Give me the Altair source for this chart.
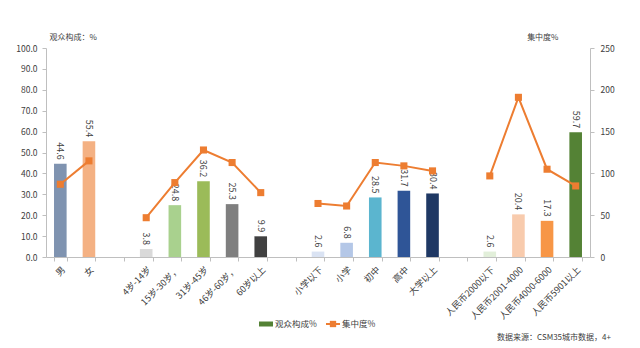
import altair as alt
import pandas as pd

FONT = "Noto Sans CJK SC"

categories = ["男", "女", " ",
              "4岁-14岁", "15岁-30岁，", "31岁-45岁", "46岁-60岁，", "60岁以上", "  ",
              "小学以下", "小学", "初中", "高中", "大学以上", "   ",
              "人民币2000以下", "人民币2001-4000", "人民币4000-6000", "人民币5901以上"]
groups = ["性别", "性别", None,
          "年龄", "年龄", "年龄", "年龄", "年龄", None,
          "学历", "学历", "学历", "学历", "学历", None,
          "收入", "收入", "收入", "收入"]
share = [44.6, 55.4, None,
         3.8, 24.8, 36.2, 25.3, 9.9, None,
         2.6, 6.8, 28.5, 31.7, 30.4, None,
         2.6, 20.4, 17.3, 59.7]
concentration = [87, 115, None,
                 47, 89, 128, 113, 77, None,
                 64, 61, 113, 109, 103, None,
                 97, 191, 105, 85]
bar_colors = ["#7f93b0", "#f4b183", "#ffffff",
              "#d9d9d9", "#a9d18e", "#9bbb59", "#7f7f7f", "#404040", "#ffffff",
              "#dae3f3", "#b4c7e7", "#5bb5cf", "#2f5597", "#1f3864", "#ffffff",
              "#e2efda", "#f8cbad", "#f79646", "#548235"]
left_ticks = [0, 10, 20, 30, 40, 50, 60, 70, 80, 90, 100]
right_ticks = [0, 50, 100, 150, 200, 250]

df = pd.DataFrame({"cat": categories, "group": groups, "share": share,
                   "conc": concentration})
bar_df = df.dropna(subset=["share"])
line_df = df.dropna(subset=["conc"])

x_enc = alt.X("cat:N", sort=categories,
              scale=alt.Scale(domain=categories, paddingInner=0.56, paddingOuter=0.28),
              axis=alt.Axis(title=None, labelAngle=-45, labelFontSize=9, labelColor="#404040",
                            labelFont=FONT, domainColor="#bfbfbf", tickColor="#bfbfbf",
                            tickSize=4, tickBand="extent", labelPadding=4))
y_left = alt.Y("share:Q",
               scale=alt.Scale(domain=[0, 100], nice=False),
               axis=alt.Axis(values=left_ticks, format=".1f", title="观众构成：%",
                             titleAngle=0, titleX=3, titleY=-11, titleAlign="left",
                             titleBaseline="middle", titleFontSize=8, titleFontWeight="normal",
                             titleFont=FONT, titleColor="#404040",
                             labelFontSize=8.5, labelColor="#404040", labelFont=FONT,
                             domainColor="#bfbfbf", tickColor="#bfbfbf", tickSize=4,
                             labelPadding=5, grid=False))

bars = alt.Chart(bar_df).mark_bar().encode(
    x=x_enc, y=y_left,
    color=alt.Color("cat:N", scale=alt.Scale(domain=categories, range=bar_colors), legend=None),
)
labels = alt.Chart(bar_df).mark_text(angle=90, align="right", baseline="middle", dx=-4,
                                     fontSize=9, color="#404040", font=FONT).encode(
    x=x_enc, y=y_left, text=alt.Text("share:Q", format=".1f"))

left = alt.layer(bars, labels)

line = alt.Chart(line_df).mark_line(
    color="#ed7d31", strokeWidth=2,
    point=alt.OverlayMarkDef(shape="square", size=50, filled=True, color="#ed7d31"),
).encode(
    x=x_enc,
    y=alt.Y("conc:Q", scale=alt.Scale(domain=[0, 250], nice=False),
            axis=alt.Axis(orient="right", values=right_ticks, format="d", title="集中度%",
                          titleAngle=0, titleX=-32, titleY=-11, titleAlign="right",
                          titleBaseline="middle", titleFontSize=8, titleFontWeight="normal",
                          titleFont=FONT, titleColor="#404040",
                          labelFontSize=8.5, labelColor="#404040", labelFont=FONT,
                          domainColor="#bfbfbf", tickColor="#bfbfbf", tickSize=4,
                          labelPadding=6, grid=False)),
    detail="group:N",
)

# legend and source note (drawn as decoration, positions relative to plot origin)
one = pd.DataFrame({"k": [0]})
leg_rect = alt.Chart(one).mark_rect(color="#548235").encode(
    x=alt.value(213), x2=alt.value(227), y=alt.value(273.5), y2=alt.value(278.5))
leg_text1 = alt.Chart(one).mark_text(text="观众构成%", align="left", baseline="middle",
                                     fontSize=8.5, color="#404040", font=FONT).encode(
    x=alt.value(229), y=alt.value(276))
leg_rule = alt.Chart(one).mark_rule(color="#ed7d31", strokeWidth=2).encode(
    x=alt.value(280), x2=alt.value(294), y=alt.value(276))
leg_pt = alt.Chart(one).mark_point(shape="square", size=40, filled=True, opacity=1,
                                    color="#ed7d31").encode(
    x=alt.value(287), y=alt.value(276))
leg_text2 = alt.Chart(one).mark_text(text="集中度%", align="left", baseline="middle",
                                     fontSize=8.5, color="#404040", font=FONT).encode(
    x=alt.value(296), y=alt.value(276))
source = alt.Chart(one).mark_text(text="数据来源：CSM35城市数据，4+", align="left",
                                  baseline="middle", fontSize=8, color="#404040",
                                  font=FONT).encode(
    x=alt.value(451), y=alt.value(290))

chart = alt.layer(left, line, leg_rect, leg_text1, leg_rule, leg_pt, leg_text2, source
                  ).resolve_scale(y="independent").properties(
    width=544, height=209,
    autosize=alt.AutoSizeParams(type="none"),
    padding={"left": 46, "top": 48, "right": 50, "bottom": 91},
    background="white",
).configure_view(strokeWidth=0)

chart.save("out.html", embed_options={"renderer": "svg", "actions": False})
